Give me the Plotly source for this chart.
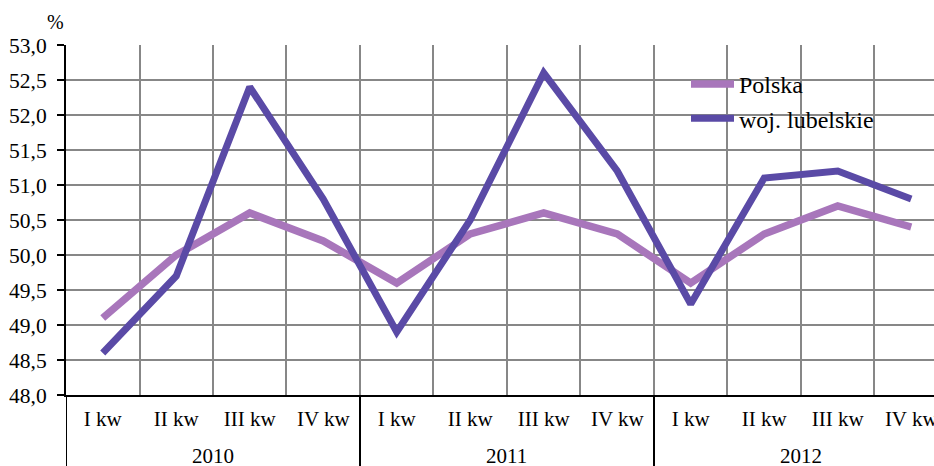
import plotly.graph_objects as go

years = ["2010", "2011", "2012"]
quarters = ["I kw", "II kw", "III kw", "IV kw"] * 3
polska = [49.1, 50.0, 50.6, 50.2, 49.6, 50.3, 50.6, 50.3, 49.6, 50.3, 50.7, 50.4]
lubelskie = [48.6, 49.7, 52.4, 50.8, 48.9, 50.5, 52.6, 51.2, 49.3, 51.1, 51.2, 50.8]

FONT = "Liberation Serif"
W, H = 934, 466
L, R, T, B = 66, 0, 45, 71
pw = W - L - R
ph = H - T - B

def px_x(x):
    return (x - L) / pw

def px_y(y):
    return (H - B - y) / ph

idx = list(range(len(quarters)))
per_year = len(quarters) // len(years)

fig = go.Figure()
fig.add_trace(go.Scatter(x=idx, y=polska, name="Polska", mode="lines",
                         line=dict(color="#A876BB", width=7.5)))
fig.add_trace(go.Scatter(x=idx, y=lubelskie, name="woj. lubelskie", mode="lines",
                         line=dict(color="#5A4AA6", width=7)))

# white box behind legend (covers gridlines)
fig.add_shape(type="rect", xref="paper", yref="paper",
              x0=px_x(662), x1=px_x(918), y0=px_y(142), y1=px_y(60),
              fillcolor="white", line=dict(width=0), layer="between")

# year group labels and dividers
for g, yr in enumerate(years):
    centre = g * per_year + (per_year - 1) / 2
    fig.add_annotation(text=yr, xref="x", yref="paper", x=centre, y=px_y(456),
                       showarrow=False, xanchor="center", yanchor="middle",
                       font=dict(family=FONT, size=21, color="black"))
for g in range(len(years)):
    bx = g * per_year - 0.5
    fig.add_shape(type="line", xref="x", yref="paper", x0=bx, x1=bx,
                  y0=0, y1=px_y(H + 5), line=dict(color="black", width=2),
                  layer="above")

fig.add_annotation(text="%", xref="paper", yref="paper", x=px_x(55), y=px_y(22),
                   showarrow=False, font=dict(family=FONT, size=20, color="black"),
                   xanchor="center", yanchor="middle")

fig.update_layout(
    width=W, height=H,
    margin=dict(l=L, r=R, t=T, b=B, autoexpand=False),
    paper_bgcolor="white", plot_bgcolor="white",
    separators=", ",
    font=dict(family=FONT, size=21, color="black"),
    showlegend=True,
    legend=dict(x=px_x(686), y=px_y(62), xanchor="left", yanchor="top",
                bgcolor="rgba(0,0,0,0)", font=dict(family=FONT, size=24, color="black"),
                itemwidth=43, tracegroupgap=0),
)
fig.update_xaxes(
    type="linear",
    range=[-0.5, 11.31],
    tickvals=idx, ticktext=quarters,
    showgrid=False,
    minor=dict(tickvals=[i - 0.5 for i in idx] + [len(idx) - 0.5], showgrid=True,
               gridcolor="#878787", gridwidth=1.5, ticks=""),
    showline=True, linecolor="black", linewidth=2,
    ticks="", automargin=False, zeroline=False,
    ticklabelstandoff=4, ticklabeloverflow="allow",
    tickfont=dict(family=FONT, size=21, color="black"),
)
fig.update_yaxes(
    range=[48, 53], dtick=0.5, tick0=48, tickformat=".1f",
    showgrid=True, gridcolor="#878787", gridwidth=1.5,
    showline=True, linecolor="black", linewidth=2,
    ticks="outside", ticklen=7, tickcolor="black", tickwidth=1.5,
    ticklabelstandoff=6, automargin=False,
    tickfont=dict(family=FONT, size=21.5, color="black"),
    zeroline=False,
)

fig.write_html("out.html", config={"displayModeBar": False},
               post_script="document.body.style.margin='0';document.body.style.overflow='hidden';")
